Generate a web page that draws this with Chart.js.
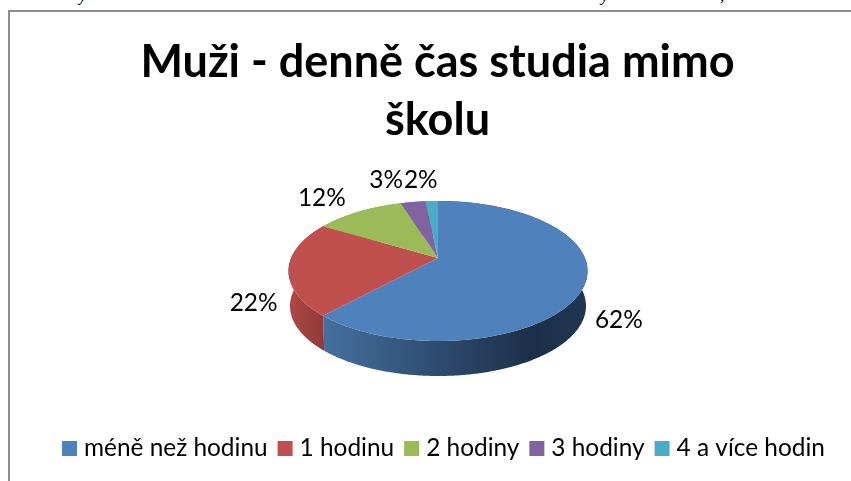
<!DOCTYPE html>
<html><head><meta charset="utf-8">
<script src="https://cdn.jsdelivr.net/npm/chart.js@4/dist/chart.umd.min.js"></script>
<style>
html,body{margin:0;padding:0;background:#fff;overflow:hidden}
#wrap{position:absolute;left:0;top:0;width:851px;height:481px;overflow:hidden}
#frame{position:absolute;left:8px;top:10px;width:860px;height:490px;border:1px solid #8f8f8f;border-width:2px 0 0 2px;box-sizing:border-box}
canvas{position:absolute;left:0;top:0}
.cut{position:absolute;font:italic 17px "Liberation Serif";color:#000;line-height:17px}
</style></head><body>
<div id="wrap">
<div class="cut" style="left:79px;top:-13px">y</div>
<div class="cut" style="left:601px;top:-13px">y</div>
<div class="cut" style="left:720px;top:-13px">,</div>
<div id="frame"></div>
<canvas id="c" width="851" height="481"></canvas>
</div>
<script>
const categories = ["méně než hodinu","1 hodinu","2 hodiny","3 hodiny","4 a více hodin"];
const shares = [61.8,21.8,11.6,3.2,1.6];
const colors = ["#4f81bd","#c0504d","#9bbb59","#8064a2","#4bacc6"];
const titleLines = ["Muži - denně čas studia mimo","školu"];

const view = {x:438,y:258,R:146.9,b:67.6,k:0.1857,depth:35,shrink:0.99};
const labelOffsets = [[34,36],[-35,35],[-37,-13],[-27,-22],[-11,-21]];
const FONT = 'Lato, "Open Sans", sans-serif';

function project(a,r){ // a: chart.js angle (0 = +x, clockwise)
  const u=Math.cos(a)*r, v=Math.sin(a)*r, w=1/(1-view.k*v);
  return [view.x+view.R*u*w, view.y+view.b*v*w];
}
function sideFill(ctx,i){
  if(i===0){const g=ctx.createLinearGradient(325,0,585,0);
    g.addColorStop(0,"#44709f");g.addColorStop(.45,"#2e4a6e");g.addColorStop(.8,"#1c2f48");g.addColorStop(1,"#1f3652");return g;}
  if(i===1){const g=ctx.createLinearGradient(290,0,326,0);
    g.addColorStop(0,"#ad4744");g.addColorStop(1,"#8f3a38");return g;}
  return colors[i];
}
const pie3d = {
  id:'pie3d',
  beforeDatasetDraw(chart,args){
    const ctx=chart.ctx, arcs=chart.getDatasetMeta(args.index).data;
    ctx.save();
    arcs.forEach((el,i)=>{
      const s=el.startAngle,e=el.endAngle,n=Math.max(4,Math.ceil((e-s)/0.01));
      const top=[];for(let j=0;j<=n;j++)top.push(project(s+(e-s)*j/n,1));
      ctx.beginPath();
      top.forEach(p=>ctx.lineTo(p[0],p[1]));
      top.slice().reverse().forEach(p=>ctx.lineTo(view.x+(p[0]-view.x)*view.shrink,p[1]+view.depth));
      ctx.closePath();ctx.fillStyle=sideFill(ctx,i);ctx.fill();
    });
    arcs.forEach((el,i)=>{
      const s=el.startAngle,e=el.endAngle,n=Math.max(4,Math.ceil((e-s)/0.01));
      ctx.beginPath();ctx.moveTo(view.x,view.y);
      for(let j=0;j<=n;j++){const p=project(s+(e-s)*j/n,1);ctx.lineTo(p[0],p[1]);}
      ctx.closePath();ctx.fillStyle=colors[i];ctx.fill();
    });
    ctx.fillStyle="#000";ctx.font='24.4px '+FONT;ctx.textAlign="center";ctx.textBaseline="middle";
    const total=shares.reduce((a,b)=>a+b,0);
    arcs.forEach((el,i)=>{
      const p=project((el.startAngle+el.endAngle)/2,1);
      ctx.fillText(Math.round(shares[i]/total*100)+"%",p[0]+labelOffsets[i][0],p[1]+labelOffsets[i][1]);
    });
    ctx.restore();
    return false;
  },
  afterDraw(chart){
    const ctx=chart.ctx;
    ctx.save();ctx.font='24.4px '+FONT;ctx.textBaseline="alphabetic";ctx.textAlign="left";
    let x=62;const y=448;
    categories.forEach((c,i)=>{
      ctx.fillStyle=colors[i];ctx.fillRect(x,y-7,15,15);
      ctx.fillStyle="#000";ctx.fillText(c,x+22,y+8);
      x+=22+ctx.measureText(c).width+10;
    });
    ctx.restore();
  }
};
new Chart(document.getElementById('c'),{
  type:'pie',
  data:{labels:categories,datasets:[{data:shares,backgroundColor:colors,borderWidth:0}]},
  plugins:[pie3d],
  options:{
    responsive:false,animation:false,
    layout:{padding:{left:24,top:0}},
    plugins:{
      legend:{display:false},tooltip:{enabled:false},
      title:{display:true,text:titleLines,color:"#000",
        font:{family:FONT,size:45,weight:'bold',lineHeight:1.29},padding:{top:33,bottom:0}}
    }
  }
});
</script>
</body></html>
